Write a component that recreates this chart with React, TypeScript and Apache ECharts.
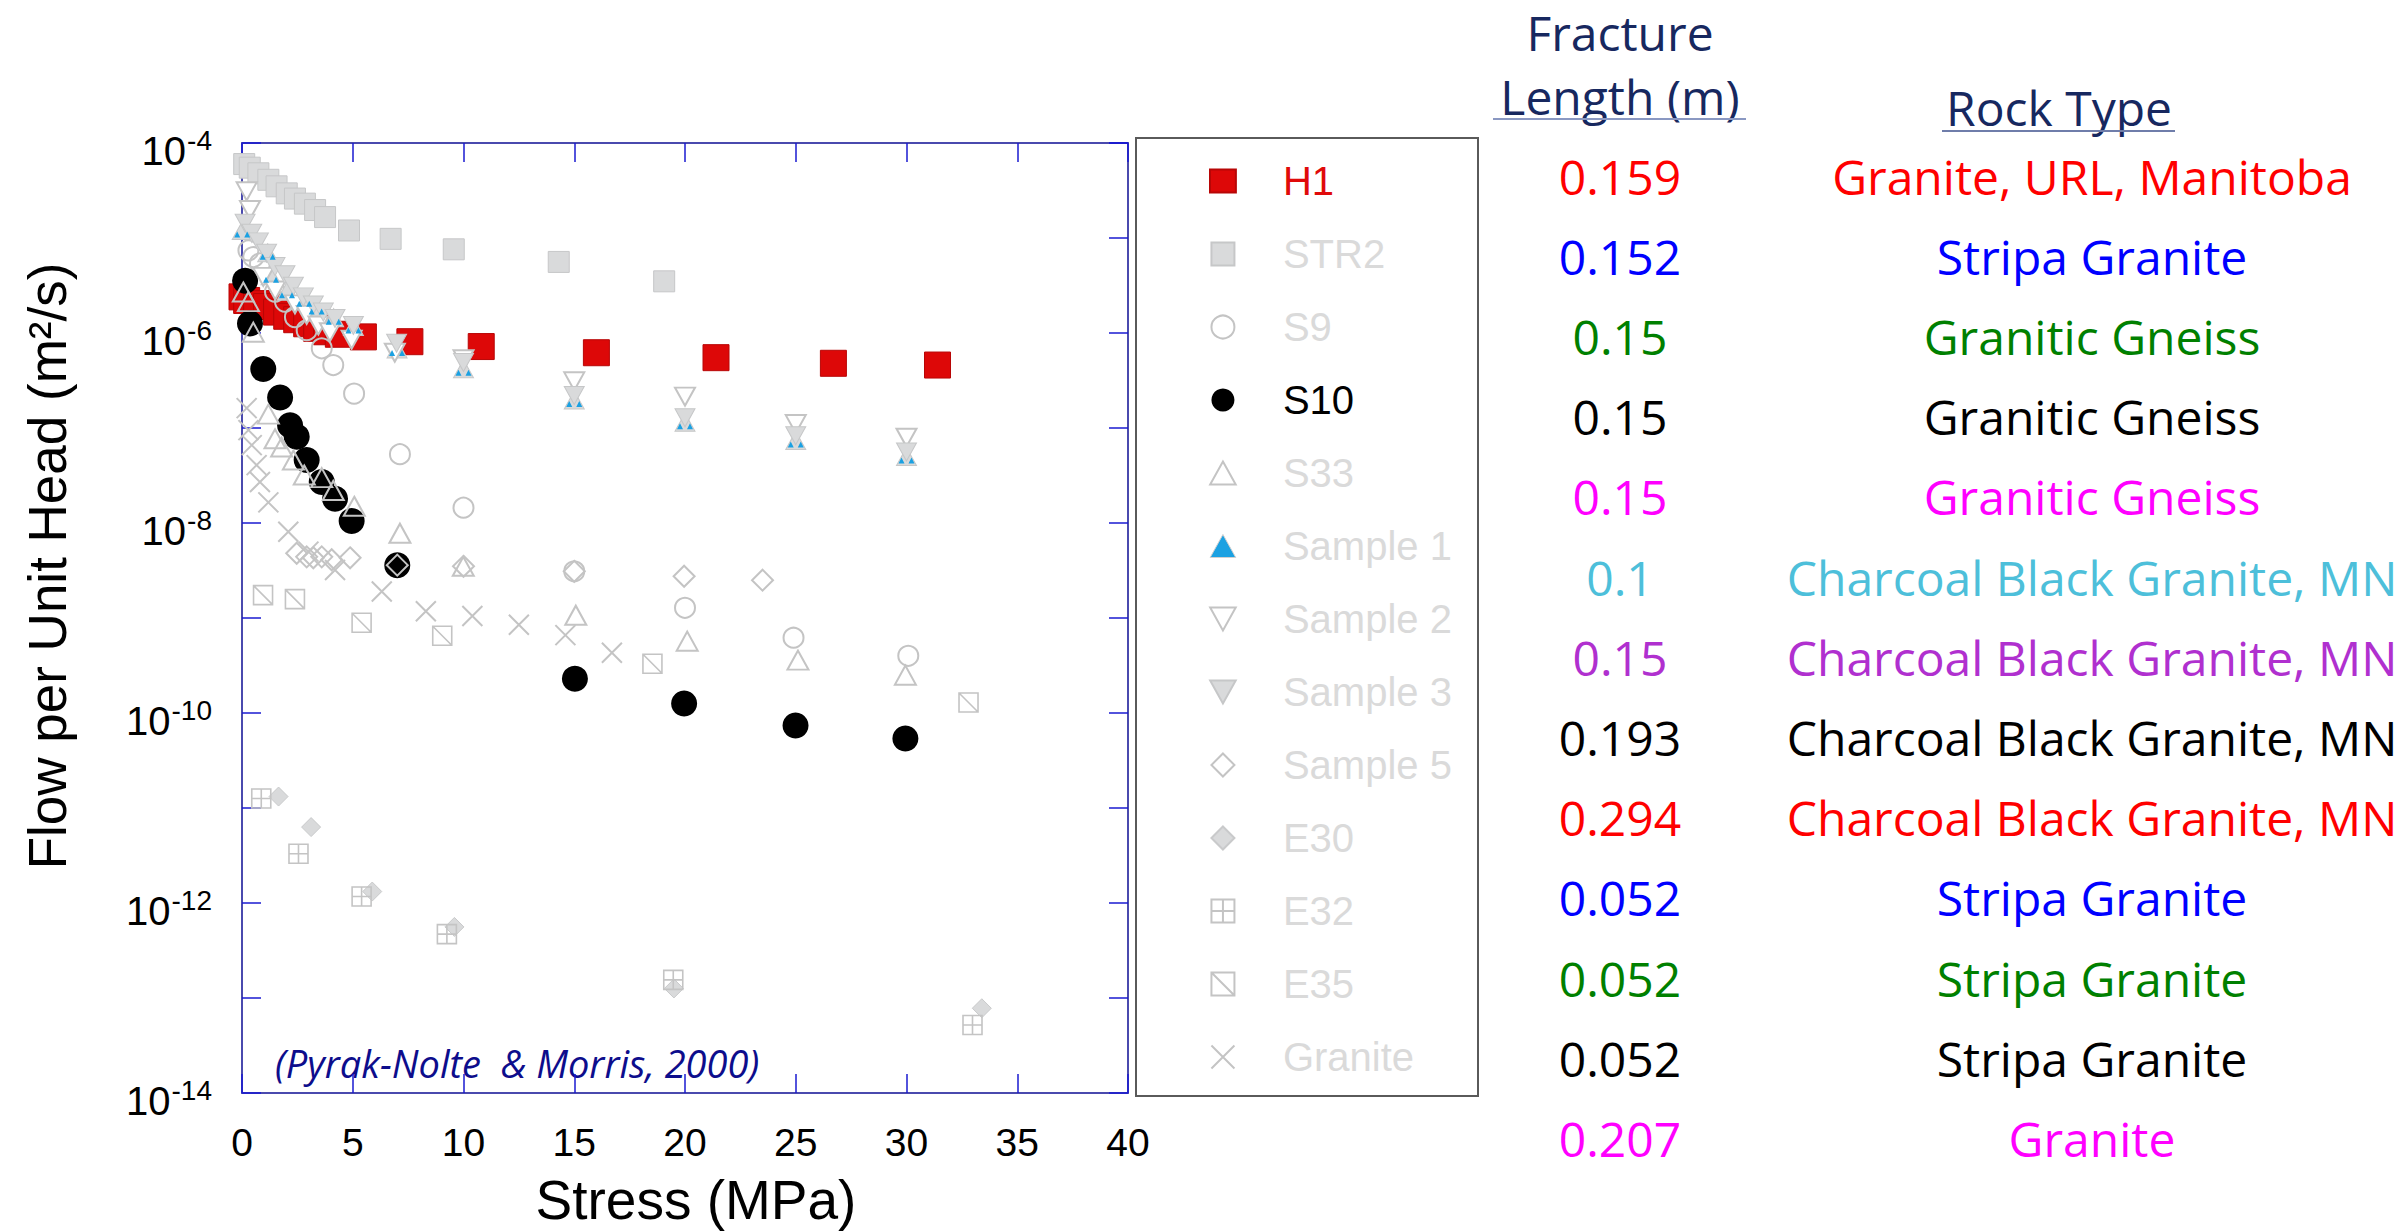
import { useEffect, useRef } from "react";
import * as echarts from "echarts";

// ---------------- data (stress in MPa, flow per unit head in m^2/s) ----------------
const h1Stress = [0.0, 0.21, 0.66, 1.11, 1.56, 2.02, 2.47, 2.92, 3.37, 3.82, 4.35, 5.48, 7.58, 10.8, 16.0, 21.4, 26.7, 31.4];
const h1Flow = [2.4e-6, 2.2e-6, 2.04e-6, 1.9e-6, 1.66e-6, 1.5e-6, 1.38e-6, 1.25e-6, 1.12e-6, 1.03e-6, 9.7e-7, 9.1e-7, 8.1e-7, 7.2e-7, 6.2e-7, 5.5e-7, 4.8e-7, 4.6e-7];

const str2Stress = [0.1, 0.35, 0.74, 1.19, 1.56, 2.02, 2.39, 2.84, 3.3, 3.75, 4.83, 6.71, 9.56, 14.3, 19.06];
const str2Flow = [6.0e-5, 5.5e-5, 4.8e-5, 4.1e-5, 3.5e-5, 2.95e-5, 2.6e-5, 2.3e-5, 1.97e-5, 1.66e-5, 1.2e-5, 9.8e-6, 7.6e-6, 5.6e-6, 3.5e-6];

const s9Stress = [0.29, 0.51, 0.81, 1.49, 1.94, 2.39, 2.92, 3.6, 4.12, 5.06, 7.13, 10.0, 15.0, 20.0, 24.9, 30.08];
const s9Flow = [7.4e-6, 6.3e-6, 5.4e-6, 2.72e-6, 2.14e-6, 1.47e-6, 1.07e-6, 6.9e-7, 4.6e-7, 2.3e-7, 5.3e-8, 1.45e-8, 3.1e-9, 1.28e-9, 6.2e-10, 4.0e-10];

const s10Stress = [0.14, 0.36, 0.96, 1.72, 2.17, 2.47, 2.92, 3.6, 4.2, 4.95, 7.01, 15.03, 19.96, 24.99, 29.95];
const s10Flow = [3.55e-6, 1.26e-6, 4.17e-7, 2.09e-7, 1.07e-7, 8.1e-8, 4.6e-8, 2.7e-8, 1.8e-8, 1.05e-8, 3.6e-9, 2.3e-10, 1.26e-10, 7.4e-11, 5.4e-11];

const s33Stress = [0.06, 0.29, 0.51, 1.19, 1.49, 1.79, 2.32, 2.81, 3.6, 4.12, 5.07, 7.13, 9.99, 15.07, 20.1, 25.1, 29.95];
const s33Flow = [2.7e-6, 2.14e-6, 1.02e-6, 1.4e-7, 7.7e-8, 6.3e-8, 4.6e-8, 3.2e-8, 3.0e-8, 2.2e-8, 1.5e-8, 7.8e-9, 3.5e-9, 1.07e-9, 5.7e-10, 3.6e-10, 2.5e-10];

const sample1Stress = [0.01, 1.16, 1.31, 2.03, 2.81, 3.37, 4.14, 5.03, 7.0, 10.0, 15.0, 20.0, 25.0, 30.0];
const sample1Flow = [1.2e-5, 7.0e-6, 4.0e-6, 2.75e-6, 2.24e-6, 1.86e-6, 1.45e-6, 1.17e-6, 6.8e-7, 4.2e-7, 1.97e-7, 1.15e-7, 7.4e-8, 5.0e-8];

const sample2Stress = [0.21, 0.36, 0.96, 1.5, 2.39, 2.92, 3.45, 3.97, 4.95, 6.9, 10.0, 15.0, 20.0, 25.0, 30.0];
const sample2Flow = [3.1e-5, 1.97e-5, 3.9e-6, 2.8e-6, 2.0e-6, 1.55e-6, 1.2e-6, 1.02e-6, 8.5e-7, 6.2e-7, 5.3e-7, 3.1e-7, 2.14e-7, 1.1e-7, 7.9e-8];

const sample3Stress = [0.14, 0.44, 0.74, 1.11, 1.49, 1.94, 2.32, 2.77, 3.22, 3.67, 4.2, 5.03, 6.98, 10.0, 15.0, 20.0, 25.0, 30.0];
const sample3Flow = [1.43e-5, 1.12e-5, 9.1e-6, 6.9e-6, 5.0e-6, 4.1e-6, 3.1e-6, 2.4e-6, 1.97e-6, 1.66e-6, 1.42e-6, 1.2e-6, 7.8e-7, 4.9e-7, 2.2e-7, 1.28e-7, 8.3e-8, 5.6e-8];

const sample5Stress = [2.47, 2.92, 3.22, 3.6, 4.05, 4.88, 7.01, 10.0, 15.0, 19.96, 23.5];
const sample5Flow = [4.8e-9, 4.4e-9, 4.3e-9, 4.4e-9, 4.1e-9, 4.3e-9, 3.6e-9, 3.5e-9, 3.1e-9, 2.75e-9, 2.5e-9];

const e30Stress = [1.65, 3.12, 5.88, 9.59, 19.5, 33.4];
const e30Flow = [1.32e-11, 6.3e-12, 1.32e-12, 5.6e-13, 1.26e-13, 7.8e-14];

const e32Stress = [0.87, 2.55, 5.4, 9.25, 19.47, 32.98];
const e32Flow = [1.26e-11, 3.3e-12, 1.17e-12, 4.7e-13, 1.55e-13, 5.2e-14];

const e35Stress = [0.95, 2.39, 5.4, 9.04, 18.53, 32.8];
const e35Flow = [1.74e-9, 1.58e-9, 8.9e-10, 6.5e-10, 3.3e-10, 1.29e-10];

const graniteStress = [0.21, 0.29, 0.44, 0.66, 0.81, 1.19, 2.09, 3.0, 4.2, 6.31, 8.3, 10.4, 12.5, 14.6, 16.7];
const graniteFlow = [1.62e-7, 9.5e-8, 6.6e-8, 4.07e-8, 2.7e-8, 1.65e-8, 8.1e-9, 5.0e-9, 3.2e-9, 1.9e-9, 1.18e-9, 1.05e-9, 8.5e-10, 6.6e-10, 4.3e-10];

const seriesNames = ["H1", "STR2", "S9", "S10", "S33", "Sample 1", "Sample 2", "Sample 3", "Sample 5", "E30", "E32", "E35", "Granite"];
const highlighted: Record<string, string> = { H1: "#E00A0A", S10: "#000000" };

const stressMin = 0;
const stressMax = 40;
const stressStep = 5;
const flowMin = 1e-14;
const flowMax = 1e-4;

const fractureLengths = ["0.159", "0.152", "0.15", "0.15", "0.15", "0.1", "0.15", "0.193", "0.294", "0.052", "0.052", "0.052", "0.207"];
const rockTypes = [
  "Granite, URL, Manitoba",
  "Stripa Granite",
  "Granitic Gneiss",
  "Granitic Gneiss",
  "Granitic Gneiss",
  "Charcoal Black Granite, MN",
  "Charcoal Black Granite, MN",
  "Charcoal Black Granite, MN",
  "Charcoal Black Granite, MN",
  "Stripa Granite",
  "Stripa Granite",
  "Stripa Granite",
  "Granite",
];
const rowColors = ["#FF0000", "#0000FF", "#008000", "#000000", "#FF00FF", "#4DBFDA", "#B030CF", "#000000", "#FF0000", "#0000FF", "#008000", "#000000", "#FF00FF"];

// ---------------- styles ----------------
const SANS = "Liberation Sans, Arial, Helvetica, sans-serif";
const TABLE_FONT = "'Open Sans', 'Noto Sans', sans-serif";
const GRAY_FILL = "#D9DADB";
const GRAY_EDGE = "#C4C4C4";
const AXIS_LINE = "#4A4AAE";
const AXIS_TICK = "#1A1AD0";
const NAVY = "#17285F";

const E32_PATH = "path://M0 0 L20 0 L20 20 L0 20 Z M10 0 L10 20 M0 10 L20 10";
const E35_PATH = "path://M0 0 L20 0 L20 20 L0 20 Z M0 0 L20 20";
const CROSS_PATH = "path://M0 0 L20 20 M20 0 L0 20";
const TWIN_TRI_PATH = "path://M0 6 L3 0 L6 6 Z M10 6 L13 0 L16 6 Z";

// legend icons (path icons keep their aspect ratio inside the legend slot)
const ICON_H1 = "path://M0 0 L27 0 L27 24 L0 24 Z";
const ICON_SQ = "path://M0 0 L20 0 L20 20 L0 20 Z";
const ICON_UP = "path://M10 0 L20 18 L0 18 Z";
const ICON_DOWN = "path://M0 0 L20 0 L10 18 Z";
const ICON_DIAMOND = "path://M10 0 L20 10 L10 20 L0 10 Z";
const legendIcons: Record<string, string> = {
  H1: ICON_H1,
  STR2: ICON_SQ,
  S33: ICON_UP,
  "Sample 1": ICON_UP,
  "Sample 2": ICON_DOWN,
  "Sample 3": ICON_DOWN,
  "Sample 5": ICON_DIAMOND,
  E30: ICON_DIAMOND,
};

const zip = (xs: number[], ys: number[]) => xs.map((x, i) => [x, ys[i]]);

function scatter(name: string, xs: number[], ys: number[], symbol: string, size: number | number[], itemStyle: any, extra: any = {}) {
  return {
    type: "scatter",
    name,
    data: zip(xs, ys),
    symbol,
    symbolSize: size,
    itemStyle: { opacity: 1, ...itemStyle },
    emphasis: { disabled: true },
    silent: true,
    xAxisIndex: 0,
    yAxisIndex: 0,
    ...extra,
  };
}

function buildOption() {
  const open = { color: "rgba(255,255,255,0)", borderColor: GRAY_EDGE, borderWidth: 2 };
  const series: any[] = [
    scatter("H1", h1Stress, h1Flow, "rect", 26, { color: "#DD0808", borderColor: "#B80606", borderWidth: 1 }),
    scatter("STR2", str2Stress, str2Flow, "rect", 21, { color: GRAY_FILL, borderColor: "#C6C7C8", borderWidth: 1 }),
    scatter("S9", s9Stress, s9Flow, "circle", 20, open),
    scatter("S10", s10Stress, s10Flow, "circle", 26, { color: "#000000" }),
    scatter("S33", s33Stress, s33Flow, "triangle", [21, 19], open),
    scatter("Sample 1", sample1Stress, sample1Flow, "triangle", [20, 18], { color: GRAY_FILL, borderColor: "#C6C7C8", borderWidth: 1 }),
    scatter("Sample 2", sample2Stress, sample2Flow, "triangle", [20, 18], { color: "#FFFFFF", borderColor: GRAY_EDGE, borderWidth: 2 }, { symbolRotate: 180 }),
    scatter("Sample 3", sample3Stress, sample3Flow, "triangle", [20, 18], { color: GRAY_FILL, borderColor: "#C6C7C8", borderWidth: 1 }, { symbolRotate: 180 }),
    scatter("Sample 5", sample5Stress, sample5Flow, "diamond", 21, open),
    scatter("E30", e30Stress, e30Flow, "diamond", 19, { color: GRAY_FILL, borderColor: "#C9CACB", borderWidth: 1 }),
    scatter("E32", e32Stress, e32Flow, E32_PATH, 19, { color: "rgba(255,255,255,0)", borderColor: GRAY_EDGE, borderWidth: 1.6 }),
    scatter("E35", e35Stress, e35Flow, E35_PATH, 19, { color: "rgba(255,255,255,0)", borderColor: GRAY_EDGE, borderWidth: 1.6 }),
    scatter("Granite", graniteStress, graniteFlow, CROSS_PATH, 20, { color: "rgba(255,255,255,0)", borderColor: GRAY_EDGE, borderWidth: 2 }),
    // blue inner marks of the Sample 1 markers
    scatter("Sample 1 marks", sample1Stress, sample1Flow, TWIN_TRI_PATH, [16, 6], { color: "#1BA1E2" }, { symbolOffset: [0, 4] }),
  ];

  const legendData = seriesNames.map((n) => {
    const item: any = { name: n, textStyle: { color: highlighted[n] || "#DADADA" } };
    if (legendIcons[n]) item.icon = legendIcons[n];
    if (n === "Sample 1") {
      item.itemStyle = { color: "#1BA1E2", borderColor: "#D0D0D0", borderWidth: 1 };
    }
    return item;
  });

  const axisCommonX = {
    type: "value",
    min: stressMin,
    max: stressMax,
    interval: stressStep,
    splitLine: { show: false },
    axisLine: { show: true, onZero: false, lineStyle: { color: AXIS_LINE, width: 2 } },
    axisTick: { show: true, inside: true, length: 19, lineStyle: { color: AXIS_TICK, width: 1.5 } },
  };
  const axisCommonY = {
    type: "log",
    logBase: 10,
    min: flowMin,
    max: flowMax,
    interval: 1,
    splitLine: { show: false },
    axisLine: { show: true, onZero: false, lineStyle: { color: AXIS_LINE, width: 2 } },
    axisTick: { show: true, inside: true, length: 19, lineStyle: { color: AXIS_TICK, width: 1.5 } },
  };

  const graphic: any[] = [];
  // axis titles
  graphic.push({
    type: "text",
    x: 696,
    y: 1200,
    silent: true,
    style: { text: "Stress (MPa)", font: `55px ${SANS}`, fill: "#000", textAlign: "center", textVerticalAlign: "middle" },
  });
  graphic.push({
    type: "text",
    x: 47,
    y: 566,
    rotation: Math.PI / 2,
    silent: true,
    style: { text: "Flow per Unit Head (m\u00B2/s)", font: `53px ${SANS}`, fill: "#000", textAlign: "center", textVerticalAlign: "middle" },
  });
  // citation
  graphic.push({
    type: "text",
    x: 275,
    y: 1063,
    silent: true,
    style: { text: "(Pyrak-Nolte  & Morris, 2000)", font: `italic 38px ${TABLE_FONT}`, fill: "#0D0D8C", textAlign: "left", textVerticalAlign: "middle" },
  });
  // legend frame
  graphic.push({
    type: "rect",
    silent: true,
    shape: { x: 1136, y: 138, width: 342, height: 958 },
    style: { fill: "none", stroke: "#5A5A5A", lineWidth: 2 },
  });
  // table header
  const colLen = 1620;
  const colRock = 2092;
  graphic.push({ type: "text", x: colLen, y: 32, silent: true, style: { text: "Fracture", font: `48px ${TABLE_FONT}`, fill: NAVY, textAlign: "center", textVerticalAlign: "middle" } });
  graphic.push({ type: "text", x: colLen, y: 96, silent: true, style: { text: "Length (m)", font: `48px ${TABLE_FONT}`, fill: NAVY, textAlign: "center", textVerticalAlign: "middle" } });
  graphic.push({ type: "line", silent: true, shape: { x1: 1493, y1: 119, x2: 1746, y2: 119 }, style: { stroke: "#8A98C2", lineWidth: 2 } });
  graphic.push({ type: "text", x: 2059, y: 107, silent: true, style: { text: "Rock Type", font: `48px ${TABLE_FONT}`, fill: NAVY, textAlign: "center", textVerticalAlign: "middle" } });
  graphic.push({ type: "line", silent: true, shape: { x1: 1942, y1: 131, x2: 2175, y2: 131 }, style: { stroke: "#6F7DAA", lineWidth: 2 } });
  fractureLengths.forEach((v, i) => {
    const y = 176 + 80.2 * i;
    graphic.push({ type: "text", x: colLen, y, silent: true, style: { text: v, font: `48px ${TABLE_FONT}`, fill: rowColors[i], textAlign: "center", textVerticalAlign: "middle" } });
    graphic.push({ type: "text", x: colRock, y, silent: true, style: { text: rockTypes[i], font: `48px ${TABLE_FONT}`, fill: rowColors[i], textAlign: "center", textVerticalAlign: "middle" } });
  });

  return {
    animation: false,
    backgroundColor: "#FFFFFF",
    grid: { left: 242, top: 143, width: 886, height: 950, containLabel: false, outerBoundsMode: "none" },
    xAxis: [
      {
        ...axisCommonX,
        position: "bottom",
        axisLabel: { show: true, fontSize: 39, fontFamily: SANS, color: "#000", margin: 30 },
      },
      { ...axisCommonX, position: "top", axisLabel: { show: false } },
    ],
    yAxis: [
      {
        ...axisCommonY,
        position: "left",
        axisLabel: {
          show: true,
          margin: 30,
          interval: 0,
          formatter: (v: number) => {
            const e = Math.round(Math.log10(v));
            if (e % 2 !== 0) return "";
            return `{b|10}{s|${e}}`;
          },
          rich: {
            b: { fontSize: 40, fontFamily: SANS, color: "#000", padding: [16, 0, 0, 0] },
            s: { fontSize: 28, fontFamily: SANS, color: "#000", verticalAlign: "top", padding: [11, 0, 0, 1] },
          },
        },
      },
      { ...axisCommonY, position: "right", axisLabel: { show: false } },
    ],
    legend: {
      show: true,
      orient: "vertical",
      // the layout box starts at the widest (centred) icon, 42px inside the 110px icon slot
      left: 1209,
      top: 161,
      padding: 0,
      itemWidth: 110,
      itemHeight: 23,
      itemGap: 33,
      selectedMode: false,
      symbolKeepAspect: true,
      textStyle: { fontSize: 40, fontFamily: SANS, lineHeight: 40, color: "#DADADA" },
      data: legendData,
    },
    tooltip: { show: false },
    series,
    graphic,
  };
}

export default function App() {
  const ref = useRef<HTMLDivElement>(null);
  useEffect(() => {
    document.body.style.margin = "0";
    const el = ref.current!;
    const chart = echarts.init(el, null, { renderer: "svg", width: 2407, height: 1232 });
    chart.setOption(buildOption() as any);
    return () => {
      chart.dispose();
    };
  }, []);
  return <div ref={ref} style={{ position: "fixed", left: 0, top: 0, width: 2407, height: 1232, background: "#fff" }} />;
}
